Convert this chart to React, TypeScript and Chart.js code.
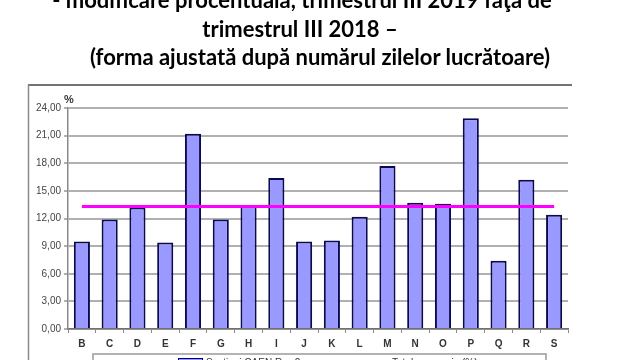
import React, { useEffect, useRef } from "react";
import { Chart, registerables } from "chart.js";

Chart.register(...registerables);

const categories = ["B", "C", "D", "E", "F", "G", "H", "I", "J", "K", "L", "M", "N", "O", "P", "Q", "R", "S"];
const sectionValues = [9.5, 11.9, 13.2, 9.4, 21.2, 11.9, 13.4, 16.4, 9.5, 9.6, 12.2, 17.7, 13.7, 13.6, 22.9, 7.4, 16.2, 12.4];
const totalValues = [13.3, 13.3, 13.3, 13.3, 13.3, 13.3, 13.3, 13.3, 13.3, 13.3, 13.3, 13.3, 13.3, 13.3, 13.3, 13.3, 13.3, 13.3];
const titleLines = [
  "- modificare procentuală, trimestrul III 2019 faţa de",
  "trimestrul III 2018 –",
  "(forma ajustată după numărul zilelor lucrătoare)",
];
const legendLabels = ["Secţiuni CAEN Rev.2", "Total economie (%)"];
const yUnit = "%";

const framePlugin = {
  id: "framePlugin",
  beforeDraw(chart: any) {
    const ctx = chart.ctx;
    ctx.save();
    ctx.strokeStyle = "#444444";
    ctx.lineWidth = 1.5;
    ctx.beginPath();
    ctx.moveTo(28, 85);
    ctx.lineTo(572, 85);
    ctx.stroke();
    ctx.strokeStyle = "#8a8a8a";
    ctx.lineWidth = 1.5;
    ctx.beginPath();
    ctx.moveTo(28.5, 85);
    ctx.lineTo(28.5, 360);
    ctx.stroke();
    ctx.restore();
  },
  afterDraw(chart: any) {
    const ctx = chart.ctx;
    const area = chart.chartArea;
    ctx.save();
    ctx.fillStyle = "#333333";
    ctx.font = "bold 11px 'Liberation Sans', Arial, sans-serif";
    ctx.textAlign = "left";
    ctx.textBaseline = "bottom";
    ctx.fillText(yUnit, area.left - 4, area.top - 3);
    // legend box
    ctx.strokeStyle = "#9a9a9a";
    ctx.lineWidth = 1.5;
    ctx.strokeRect(93, 354, 453, 30);
    ctx.fillStyle = "#9999ff";
    ctx.strokeStyle = "#000080";
    ctx.lineWidth = 1;
    ctx.fillRect(178, 358, 24, 10);
    ctx.strokeRect(178.5, 358.5, 24, 10);
    ctx.strokeStyle = "#ff00ff";
    ctx.lineWidth = 3;
    ctx.beginPath();
    ctx.moveTo(360, 363);
    ctx.lineTo(386, 363);
    ctx.stroke();
    ctx.fillStyle = "#333333";
    ctx.font = "10px 'Liberation Sans', Arial, sans-serif";
    ctx.textBaseline = "alphabetic";
    ctx.fillText(legendLabels[0], 206, 366);
    ctx.fillText(legendLabels[1], 392, 366);
    ctx.restore();
  },
};

function ChartCanvas() {
  const ref = useRef<HTMLCanvasElement | null>(null);
  useEffect(() => {
    if (!ref.current) return;
    const chart = new Chart(ref.current, {
      type: "bar",
      data: {
        labels: categories,
        datasets: [
          {
            type: "line",
            label: legendLabels[1],
            data: totalValues,
            borderColor: "#ff00ff",
            backgroundColor: "#ff00ff",
            borderWidth: 3,
            pointRadius: 0,
            order: 0,
          } as any,
          {
            type: "bar",
            label: legendLabels[0],
            data: sectionValues,
            backgroundColor: "#9999ff",
            borderColor: "#0a0a50",
            borderWidth: 2,
            categoryPercentage: 1,
            barPercentage: 0.58,
            order: 1,
          } as any,
        ],
      },
      options: {
        responsive: false,
        animation: false,
        devicePixelRatio: 1,
        layout: { padding: { left: 28, right: 51, top: 108, bottom: 11 } },
        plugins: {
          legend: { display: false },
          tooltip: { enabled: false },
          title: { display: false },
        },
        scales: {
          x: {
            grid: {
              display: true,
              drawOnChartArea: false,
              drawTicks: true,
              tickLength: 4,
              color: "#8a8a8a",
              offset: true,
            },
            border: { color: "#707070", width: 1.5 },
            ticks: {
              color: "#333333",
              font: { family: "'Liberation Sans', Arial, sans-serif", size: 10, weight: "bold" },
              padding: 5,
              maxRotation: 0,
            },
            afterFit(scale: any) {
              scale.height = 20;
            },
          },
          y: {
            min: 0,
            max: 24,
            ticks: {
              stepSize: 3,
              color: "#444444",
              font: { family: "'Liberation Sans', Arial, sans-serif", size: 10 },
              padding: 3,
              callback: (v: any) => Number(v).toFixed(2).replace(".", ","),
            },
            grid: {
              color: "#b0b0b0",
              lineWidth: 2,
              tickLength: 4,
              drawTicks: true,
            },
            border: { color: "#8a8a8a", width: 1.5 },
            afterFit(scale: any) {
              scale.width = 40;
            },
          },
        },
      },
      plugins: [framePlugin],
    });
    return () => chart.destroy();
  }, []);
  return <canvas ref={ref} width={619} height={360} style={{ display: "block" }} />;
}

export default function App() {
  const titleStyle: React.CSSProperties = {
    position: "absolute",
    fontFamily: "Lato, 'Open Sans', sans-serif",
    fontWeight: 700,
    fontSize: "22px",
    lineHeight: "26px",
    color: "#000",
    whiteSpace: "nowrap",
    transform: "translateX(-50%)",
  };
  return (
    <div style={{ position: "absolute", left: 0, top: 0, width: 619, height: 360, overflow: "hidden", background: "#fff" }}>
      <ChartCanvas />
      <div style={{ ...titleStyle, left: 302, top: -13 }}>{titleLines[0]}</div>
      <div style={{ ...titleStyle, left: 300, top: 16 }}>{titleLines[1]}</div>
      <div style={{ ...titleStyle, left: 320, top: 44 }}>{titleLines[2]}</div>
    </div>
  );
}
